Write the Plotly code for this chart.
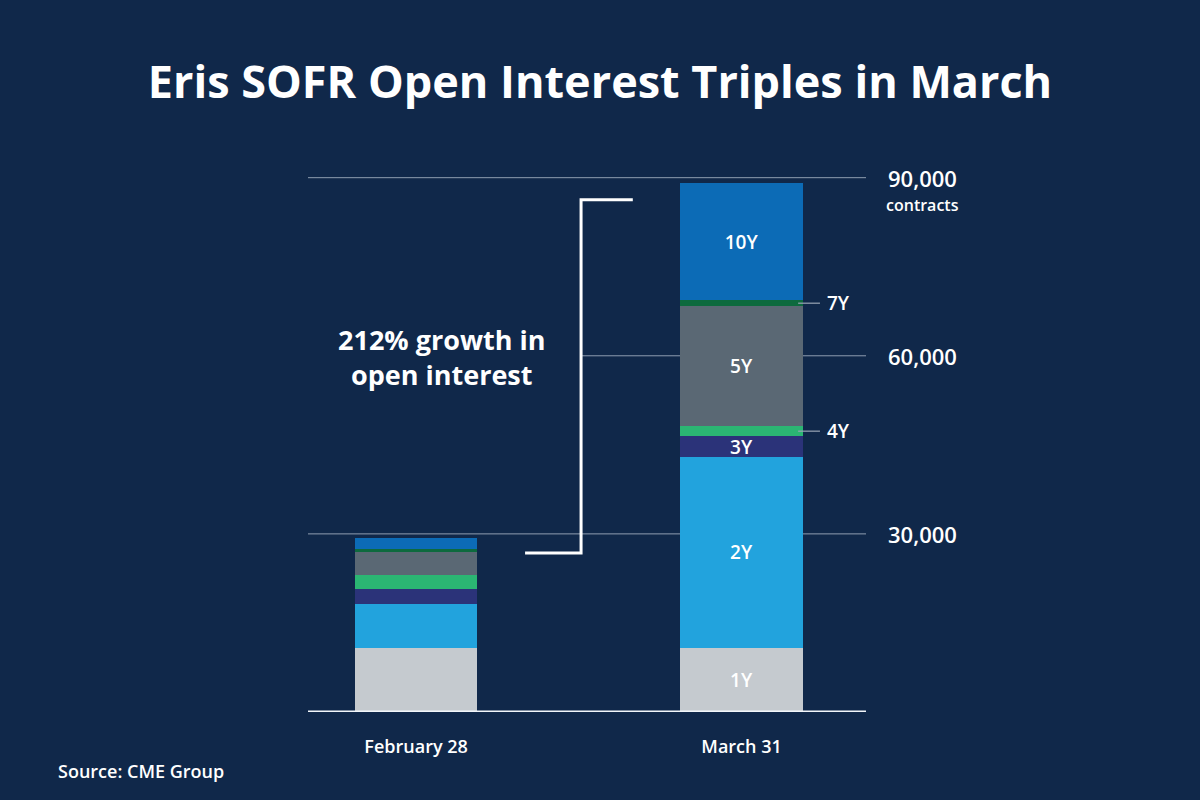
import plotly.graph_objects as go

categories = ["February 28", "March 31"]
tenors = ["1Y", "2Y", "3Y", "4Y", "5Y", "7Y", "10Y"]
values = {
    "1Y": [10780, 10850],
    "2Y": [7480, 32100],
    "3Y": [2530, 3490],
    "4Y": [2290, 1730],
    "5Y": [3820, 20210],
    "7Y": [560, 960],
    "10Y": [1920, 19750],
}
colors = {
    "1Y": "#c5cacf",
    "2Y": "#22a3dd",
    "3Y": "#2b3379",
    "4Y": "#2bb673",
    "5Y": "#5a6874",
    "7Y": "#0d6a3e",
    "10Y": "#0c6bb6",
}
inside_labels = ["1Y", "2Y", "3Y", "5Y", "10Y"]
callout_labels = ["4Y", "7Y"]
tick_vals = [30000, 60000, 90000]
tick_text = ["30,000", "60,000", "90,000"]

BG = "#10284a"
FONT = "Open Sans"

fig = go.Figure()
for t in tenors:
    txt = ["", t] if t in inside_labels else ["", ""]
    fig.add_trace(go.Bar(
        x=categories, y=values[t], name=t,
        marker=dict(color=colors[t], line=dict(width=0)),
        text=txt, textposition="inside", insidetextanchor="middle", textangle=0,
        textfont=dict(color="white", size=19, family=FONT, weight=600),
        width=0.376, hoverinfo="skip", cliponaxis=False,
    ))

shapes = []
for v in tick_vals:
    x0 = 0.4875 if v == 60000 else 0
    shapes.append(dict(type="line", xref="paper", yref="y", x0=x0, x1=1, y0=v, y1=v,
                       line=dict(color="#8f9db0", width=1), layer="below"))
shapes.append(dict(type="line", xref="paper", yref="y", x0=0, x1=1, y0=0, y1=0,
                   line=dict(color="#f2f6fa", width=2.8)))

annotations = []
for t in callout_labels:
    idx = tenors.index(t)
    base = sum(values[tenors[i]][1] for i in range(idx))
    mid = base + values[t][1] / 2
    shapes.append(dict(type="line", xref="x", yref="y", x0=1.174, x1=1.241, y0=mid, y1=mid,
                       line=dict(color="#9aa6b6", width=1.2)))
    annotations.append(dict(x=1.256, y=mid, xref="x", yref="y", text=t, showarrow=False,
                            xanchor="left", yanchor="middle",
                            font=dict(color="white", size=19, family=FONT, weight=600)))

shapes.append(dict(type="path", xref="x", yref="y",
                   path="M 0.335 26780 L 0.507 26780 L 0.507 86290 L 0.666 86290",
                   line=dict(color="white", width=3)))

for v, s in zip(tick_vals, tick_text):
    annotations.append(dict(x=1.036, y=v, xref="paper", yref="y", text=s, showarrow=False,
                            xanchor="left", yanchor="middle",
                            font=dict(color="white", size=22, family=FONT, weight=600)))
annotations.append(dict(x=1.033, y=90000, xref="paper", yref="y", text="contracts", showarrow=False,
                        xanchor="left", yanchor="top", yshift=-14,
                        font=dict(color="white", size=16, family=FONT, weight=600)))

annotations.append(dict(x=441, y=357, xref="paper", yref="paper", text="212% growth in<br>open interest",
                        showarrow=False, xanchor="center", yanchor="middle", align="center",
                        font=dict(color="white", size=27, family=FONT, weight=700)))
annotations.append(dict(x=56, y=771, xref="paper", yref="paper", text="Source: CME Group",
                        showarrow=False, xanchor="left", yanchor="middle",
                        font=dict(color="white", size=18, family=FONT, weight=600)))

L, R, T, B = 308, 334, 147.6, 88.3
W, H = 1200, 800
pw, ph = W - L - R, H - T - B
for a in annotations[-2:]:
    a["x"] = (a["x"] - L) / pw
    a["y"] = (H - B - a["y"]) / ph

fig.update_layout(
    width=W, height=H,
    margin=dict(l=L, r=R, t=T, b=B),
    paper_bgcolor=BG, plot_bgcolor=BG,
    barmode="stack", showlegend=False,
    uniformtext=dict(minsize=16, mode="show"),
    title=dict(text="Eris SOFR Open Interest Triples in March", x=0.5, xanchor="center",
               y=1 - 82 / H, yanchor="middle", yref="container",
               font=dict(color="white", size=45, family=FONT, weight=700)),
    xaxis=dict(range=[-0.332, 1.3825], showgrid=False, zeroline=False, showline=False,
               ticks="outside", ticklen=18, tickcolor="rgba(0,0,0,0)",
               tickfont=dict(color="white", size=18, family=FONT, weight=600)),
    yaxis=dict(range=[0, 95000], showgrid=False, zeroline=False, showline=False,
               showticklabels=False, ticks=""),
    shapes=shapes, annotations=annotations,
)

fig.write_html("out.html", config={"displayModeBar": False},
               post_script="document.body.style.margin='0';document.body.style.background='%s';" % BG)
